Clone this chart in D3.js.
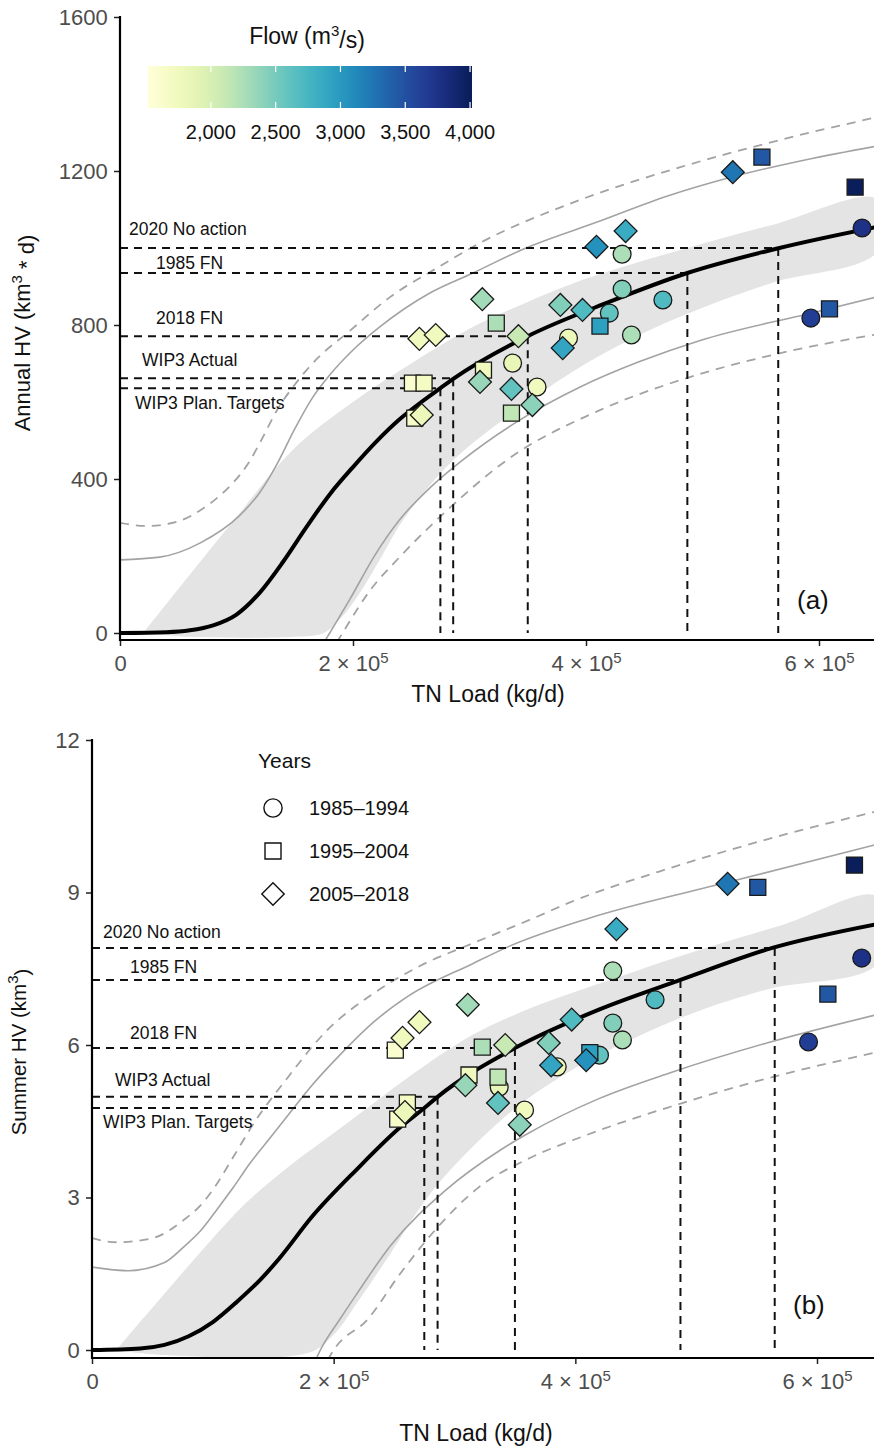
<!DOCTYPE html>
<html>
<head>
<meta charset="utf-8">
<script src="https://cdn.jsdelivr.net/npm/d3@7"></script>
<style>
  body { margin: 0; background: #fff; }
  text { font-family: "Liberation Sans", Arial, sans-serif; }
</style>
</head>
<body>
<div id="chart"></div>
<script>
// ---- data (load in kg/d) ----

// reference scenarios
var refLabels = ["2020 No action", "1985 FN", "2018 FN", "WIP3 Actual", "WIP3 Plan. Targets"];
var refLoad   = [565000, 487000, 350000, 286000, 275000];
var refAnnual = [1000, 935, 771, 662, 636];
var refSummer = [7.91, 7.28, 5.94, 4.98, 4.76];

// fitted curve, confidence band and prediction lines: [load, HV]
var annualFit = [[0,0],[40000,2],[60000,7],[80000,20],[100000,48],[120000,105],[140000,185],[160000,275],[180000,360],[200000,431],[220000,497],[240000,555],[260000,603],[275000,636],[286000,660],[350000,771],[420000,860],[487000,935],[566000,1000],[650000,1055]];
var annualBandUp = [[20000,0],[97000,290],[148000,475],[200000,600],[250000,700],[300000,790],[350000,860],[400000,920],[481000,995],[560000,1060],[650000,1127]];
var annualBandLo = [[20000,0],[60000,-10],[150000,-10],[175000,0],[190000,40],[205000,100],[222000,185],[240000,280],[265000,380],[290000,460],[350000,600],[400000,700],[450000,780],[500000,845],[560000,910],[650000,990]];
var annualPredUp = [[0,190],[34000,197],[69000,234],[103000,306],[120000,365],[135000,440],[150000,530],[165000,610],[180000,670],[200000,735],[223000,795],[266000,883],[303000,935],[346000,997],[412000,1070],[470000,1135],[526000,1185],[590000,1230],[650000,1265]];
var annualPredUp2 = [[0,286],[23000,278],[50000,290],[69000,319],[85000,355],[97000,390],[110000,440],[122000,505],[135000,580],[150000,645],[170000,715],[195000,779],[232000,873],[272000,948],[309000,1013],[395000,1125],[481000,1210],[567000,1281],[650000,1340]];
var annualPredLo = [[175000,-25],[180000,0],[197000,86],[219000,203],[240000,294],[266000,377],[294000,449],[343000,553],[395000,639],[446000,705],[498000,760],[592000,830],[650000,873]];
var annualPredLo2 = [[186000,-25],[191000,0],[215000,112],[240000,197],[283000,325],[332000,449],[412000,579],[481000,657],[567000,727],[650000,776]];

var summerFit = [[0,0],[40000,0.03],[60000,0.1],[80000,0.27],[100000,0.55],[120000,0.95],[140000,1.4],[155000,1.8],[182000,2.62],[219000,3.55],[256000,4.4],[275000,4.76],[286000,4.98],[350000,5.94],[420000,6.7],[487000,7.28],[563000,7.91],[650000,8.38]];
var summerBandUp = [[20000,0],[56000,1.0],[100000,2.2],[130000,2.95],[165000,3.65],[199000,4.25],[230000,4.8],[261000,5.35],[315000,6.2],[371000,6.8],[431000,7.3],[500000,7.85],[570000,8.35],[650000,8.92]];
var summerBandLo = [[20000,0],[60000,-0.1],[180000,-0.05],[200000,0.3],[220000,0.95],[247000,1.9],[270000,2.75],[293000,3.45],[350000,4.75],[400000,5.55],[450000,6.15],[500000,6.65],[560000,7.1],[650000,7.6]];
var summerPredUp = [[0,1.63],[30000,1.56],[60000,1.72],[76000,2.03],[90000,2.35],[103000,2.75],[117000,3.2],[130000,3.65],[146000,4.13],[165000,4.7],[180000,5.15],[205000,5.8],[233000,6.45],[261000,6.95],[315000,7.6],[346000,7.95],[412000,8.5],[526000,9.2],[650000,9.95]];
var summerPredUp2 = [[0,2.2],[20000,2.12],[50000,2.2],[76000,2.56],[90000,2.85],[100000,3.15],[117000,3.8],[135000,4.5],[160000,5.3],[195000,6.3],[232000,7.0],[271000,7.55],[315000,8.0],[362000,8.46],[395000,8.8],[481000,9.5],[567000,10.1],[650000,10.6]];
var summerPredLo = [[185000,-0.2],[189000,0],[205000,0.6],[219000,1.1],[247000,2.05],[293000,3.15],[339000,3.95],[360000,4.25],[420000,4.95],[478000,5.45],[560000,6.05],[650000,6.6]];
var summerPredLo2 = [[195000,-0.2],[200000,0],[228000,0.6],[255000,1.5],[284000,2.36],[320000,3.2],[360000,3.75],[406000,4.2],[478000,4.78],[560000,5.35],[650000,5.86]];

// observed years: 0 = 1985-1994, 1 = 1995-2004, 2 = 2005-2018
var periods = ["1985\u20131994", "1995\u20132004", "2005\u20132018"];
var pointPeriod = [0,0,0,0,0,0,0,0,0,0, 1,1,1,1,1,1,1,1,1,1, 2,2,2,2,2,2,2,2,2,2,2,2,2,2];
var pointLoad = [637000,593000,431000,431000,420000,466000,439000,385000,337000,358000,
                 631000,551000,609000,412000,323000,312000,336000,251000,261000,253000,
                 526000,409000,434000,378000,397000,380000,311000,342000,257000,271000,309000,336000,354000,259000];
var pointFlow = [3750,3650,2450,2250,2600,2700,2250,1800,1850,1750,
                 4000,3450,3450,2950,2250,1750,2150,1600,1700,1650,
                 3250,3050,2850,2450,2700,2900,2300,2100,1750,1750,2350,2600,2400,1800];
var pointAnnual = [1052,818,893,984,831,865,774,766,701,639,
                   1158,1236,842,797,805,683,571,649,649,558,
                   1197,1003,1044,852,839,740,867,771,764,774,652,634,592,566];
var pointSummer = [7.71,6.06,6.43,7.46,5.8,6.89,6.1,5.57,5.17,4.72,
                   9.54,9.1,7.0,5.85,5.96,5.41,5.37,5.9,4.86,4.54,
                   9.17,5.7,8.28,6.04,6.5,5.6,6.79,6.0,6.14,6.45,5.21,4.86,4.43,4.68];

var flowTicks = [2000, 2500, 3000, 3500, 4000];

// ---- page ----
var W = 874, H = 1447;
var svg = d3.select("#chart").append("svg")
    .attr("width", W)
    .attr("height", H);

var color = d3.scaleSequential(d3.interpolateYlGnBu).domain([1515, 4015]);
var fmtComma = d3.format(",");

var bandFill = "#e4e4e4", predGray = "#a3a3a3";

function symbolPath(p, size) {
  if (p === 0) return d3.symbol(d3.symbolCircle, size.c)();
  return d3.symbol(d3.symbolSquare, p === 1 ? size.s : size.d)();
}

function drawPanel(o) {
  var x = d3.scaleLinear().domain([0, 600000]).range([o.left, o.x6]);
  var y = d3.scaleLinear().domain([0, o.yMax]).range([o.zeroY, o.topY]);
  var g = svg.append("g");

  svg.append("clipPath").attr("id", o.id)
    .append("rect")
      .attr("x", o.left).attr("y", o.topY - 30)
      .attr("width", W - o.left).attr("height", o.axisY - o.topY + 29);

  var plot = g.append("g").attr("clip-path", "url(#" + o.id + ")");
  var line = d3.line().x(d => x(d[0])).y(d => y(d[1])).curve(d3.curveMonotoneX);

  // confidence band
  var band = o.bandUp.concat(o.bandLo.slice().reverse());
  plot.append("path")
    .attr("d", d3.line().x(d => x(d[0])).y(d => y(d[1])).curve(d3.curveCatmullRomClosed.alpha(0.5))(band))
    .attr("fill", bandFill);

  // prediction lines
  [o.predUp, o.predLo].forEach(function(s) {
    plot.append("path").attr("d", line(s)).attr("fill", "none")
      .attr("stroke", predGray).attr("stroke-width", 1.6);
  });
  [o.predUp2, o.predLo2].forEach(function(s) {
    plot.append("path").attr("d", line(s)).attr("fill", "none")
      .attr("stroke", predGray).attr("stroke-width", 1.8).attr("stroke-dasharray", "9,7");
  });

  // scenario guides
  refLoad.forEach(function(L, i) {
    var v = o.ref[i];
    plot.append("line")
      .attr("x1", x(0)).attr("x2", x(L)).attr("y1", y(v)).attr("y2", y(v))
      .attr("stroke", "#111").attr("stroke-width", 2).attr("stroke-dasharray", "8,6");
    plot.append("line")
      .attr("x1", x(L)).attr("x2", x(L)).attr("y1", y(v)).attr("y2", y(0))
      .attr("stroke", "#111").attr("stroke-width", 2).attr("stroke-dasharray", "8,6");
    g.append("text")
      .attr("x", x(0) + o.labDx[i]).attr("y", y(v) + o.labDy[i])
      .attr("font-size", 17.5).attr("fill", "#111")
      .text(refLabels[i]);
  });

  // fitted curve
  plot.append("path").attr("d", line(o.fit)).attr("fill", "none")
    .attr("stroke", "#000").attr("stroke-width", 4);

  // observations
  plot.selectAll(".pt")
    .data(pointLoad.map((L, i) => i))
    .enter()
    .append("path")
      .attr("d", i => symbolPath(pointPeriod[i], {c: 250, s: 256, d: 262}))
      .attr("transform", i => "translate(" + x(pointLoad[i]) + "," + y(o.vals[i]) + ")" + (pointPeriod[i] === 2 ? " rotate(45)" : ""))
      .attr("fill", i => color(pointFlow[i]))
      .attr("stroke", "#1a1a1a").attr("stroke-width", 1.3);

  // axes
  var xAxis = g.append("g")
    .attr("transform", "translate(0," + o.axisY + ")")
    .call(d3.axisBottom(x).tickValues([0, 200000, 400000, 600000]).tickSize(6).tickSizeOuter(0));
  xAxis.select(".domain").remove();
  xAxis.selectAll(".tick line").attr("stroke", "#222").attr("stroke-width", 1.5);
  xAxis.selectAll(".tick text")
    .attr("font-size", 22).attr("fill", "#4d4d4d").attr("dy", "1.0em")
    .text(null)
    .each(function(d) {
      var t = d3.select(this);
      if (d === 0) { t.text("0"); return; }
      t.append("tspan").text((d / 100000) + " \u00d7 10");
      t.append("tspan").attr("dy", "-0.55em").attr("font-size", 15).text("5");
    });
  g.append("line")
    .attr("x1", o.left - 1).attr("x2", W).attr("y1", o.axisY).attr("y2", o.axisY)
    .attr("stroke", "#000").attr("stroke-width", 2.2);

  var yAxis = g.append("g")
    .attr("transform", "translate(" + o.left + ",0)")
    .call(d3.axisLeft(y).tickValues(o.yTicks).tickFormat(d3.format("d")).tickSize(6).tickSizeOuter(0));
  yAxis.select(".domain").remove();
  yAxis.selectAll(".tick line").attr("stroke", "#222").attr("stroke-width", 1.5);
  yAxis.selectAll(".tick text").attr("font-size", 22).attr("fill", "#4d4d4d").attr("dx", "-0.15em");
  g.append("line")
    .attr("x1", o.left).attr("x2", o.left).attr("y1", o.topY - 1).attr("y2", o.axisY + 1)
    .attr("stroke", "#000").attr("stroke-width", 2.2);

  // titles
  g.append("text")
    .attr("x", o.xTitleX).attr("y", o.xTitleY)
    .attr("text-anchor", "middle").attr("font-size", 23).attr("fill", "#111")
    .text("TN Load (kg/d)");
  var yt = g.append("text")
    .attr("transform", "translate(" + o.yTitleX + "," + o.yTitleY + ") rotate(-90)")
    .attr("text-anchor", "middle").attr("font-size", o.yTitleSize).attr("fill", "#111");
  yt.append("tspan").text(o.yTitle[0]);
  yt.append("tspan").attr("dy", "-0.55em").attr("font-size", 15).text("3");
  yt.append("tspan").attr("dy", "0.55em").text(o.yTitle[1]);

  g.append("text")
    .attr("x", o.tagX).attr("y", o.tagY)
    .attr("font-size", 26).attr("fill", "#111")
    .text(o.tag);

  return {x: x, y: y, g: g};
}

drawPanel({
  id: "clip-a", left: 120, x6: 819, zeroY: 633, topY: 17, axisY: 640,
  yMax: 1600, yTicks: [0, 400, 800, 1200, 1600],
  fit: annualFit, bandUp: annualBandUp, bandLo: annualBandLo,
  predUp: annualPredUp, predLo: annualPredLo, predUp2: annualPredUp2, predLo2: annualPredLo2,
  ref: refAnnual, vals: pointAnnual,
  labDx: [9, 36, 36, 22, 15], labDy: [-13, -4, -12, -12, 21],
  xTitleX: 488, xTitleY: 702, yTitleX: 30, yTitleY: 333, yTitleSize: 22,
  yTitle: ["Annual HV (km", " * d)"],
  tag: "(a)", tagX: 797, tagY: 609
});

drawPanel({
  id: "clip-b", left: 92, x6: 817, zeroY: 1350, topY: 740, axisY: 1358,
  yMax: 12, yTicks: [0, 3, 6, 9, 12],
  fit: summerFit, bandUp: summerBandUp, bandLo: summerBandLo,
  predUp: summerPredUp, predLo: summerPredLo, predUp2: summerPredUp2, predLo2: summerPredLo2,
  ref: refSummer, vals: pointSummer,
  labDx: [11, 38, 38, 23, 11], labDy: [-10, -7, -9, -11, 20],
  xTitleX: 476, xTitleY: 1441, yTitleX: 26, yTitleY: 1052, yTitleSize: 20.5,
  yTitle: ["Summer HV (km", ")"],
  tag: "(b)", tagX: 793, tagY: 1314
});

// ---- colour bar legend (panel a) ----
var cbX = d3.scaleLinear().domain([1515, 4015]).range([148, 472]);
var grad = svg.append("defs").append("linearGradient").attr("id", "flowgrad");
d3.range(0, 1.0001, 0.05).forEach(function(t) {
  grad.append("stop").attr("offset", t)
    .attr("stop-color", color(1515 + t * 2500));
});
svg.append("rect")
  .attr("x", 148).attr("y", 66).attr("width", 324).attr("height", 42)
  .attr("fill", "url(#flowgrad)");
flowTicks.forEach(function(f) {
  svg.append("line").attr("x1", cbX(f)).attr("x2", cbX(f)).attr("y1", 66).attr("y2", 72)
    .attr("stroke", "#fff").attr("stroke-width", 1.2);
  svg.append("line").attr("x1", cbX(f)).attr("x2", cbX(f)).attr("y1", 102).attr("y2", 108)
    .attr("stroke", "#fff").attr("stroke-width", 1.2);
  svg.append("text")
    .attr("x", cbX(f)).attr("y", 139)
    .attr("text-anchor", "middle").attr("font-size", 20).attr("fill", "#111")
    .text(fmtComma(f));
});
var ct = svg.append("text")
  .attr("x", 307).attr("y", 44)
  .attr("text-anchor", "middle").attr("font-size", 23).attr("fill", "#111");
ct.append("tspan").text("Flow (m");
ct.append("tspan").attr("dy", "-0.55em").attr("font-size", 15).text("3");
ct.append("tspan").attr("dy", "0.55em").text("/s)");

// ---- shape legend (panel b) ----
svg.append("text")
  .attr("x", 258).attr("y", 768)
  .attr("font-size", 21).attr("fill", "#111")
  .text("Years");
periods.forEach(function(p, i) {
  var cy = 808 + i * 43;
  svg.append("path")
    .attr("d", symbolPath(i, {c: 260, s: 256, d: 250}))
    .attr("transform", "translate(273," + cy + ")" + (i === 2 ? " rotate(45)" : ""))
    .attr("fill", "none").attr("stroke", "#111").attr("stroke-width", 1.4);
  svg.append("text")
    .attr("x", 309).attr("y", cy + 7)
    .attr("font-size", 20).attr("fill", "#111")
    .text(p);
});
</script>
</body>
</html>
